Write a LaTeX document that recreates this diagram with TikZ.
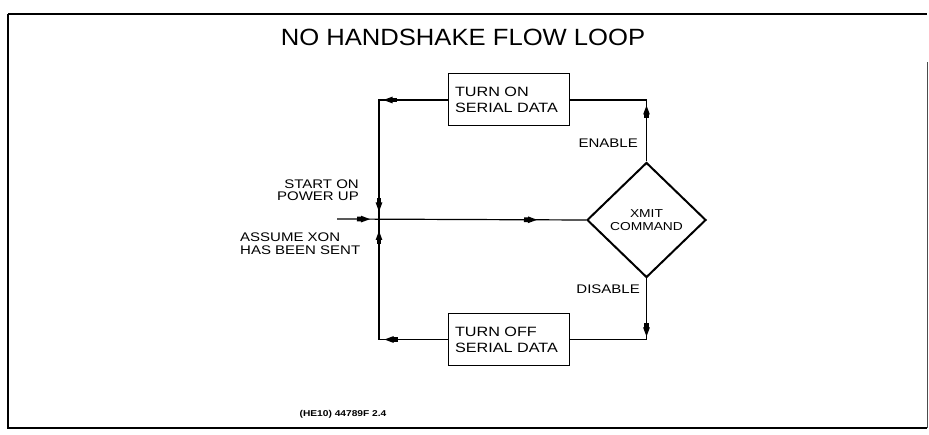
\documentclass[tikz,border=0pt]{standalone}
\usepackage{fontspec}
\setmainfont{Liberation Sans}[FakeStretch=1.2]
\newfontfamily\titlefont{Liberation Sans}[FakeStretch=1.09]
\usetikzlibrary{shapes.geometric,arrows.meta,decorations.markings}
\newcommand\arrmark{\fill (0,0) -- (-9,3.4) -- (-9,-3.4) -- cycle; \fill (-8,-2.4) rectangle (-13,2.4);}
\tikzset{
  proc/.style={draw, line width=1pt, minimum width=121pt, minimum height=52pt,
    inner xsep=7pt, inner ysep=0pt, text width=107pt, align=left,
    font=\fontsize{13.5}{16}\selectfont},
  decide/.style={draw, diamond, line width=2pt, minimum width=119pt, minimum height=115pt,
    inner sep=0pt, align=center, font=\fontsize{11.5}{13}\selectfont},
  lbl/.style={inner sep=0pt, font=\fontsize{12.5}{12.5}\selectfont},
  conn/.style={line width=1.2pt},
  mk/.style={postaction={decorate}, decoration={markings, mark=at position #1 with {\arrmark}}},
  mktwo/.style 2 args={postaction={decorate}, decoration={markings,
    mark=at position #1 with {\arrmark}, mark=at position #2 with {\arrmark}}}
}
\begin{document}
\begin{tikzpicture}[x=1pt,y=-1pt]
\useasboundingbox (0,0) rectangle (929,435);
% frame
\draw[line width=2pt] (8,14) -- (927,14);
\draw[line width=1.2pt] (8,14) -- (8,428) -- (927,428);
\draw[line width=0.8pt, black!70] (927,428) -- (927,62);
% title
\node[font=\titlefont\fontsize{23.5}{28}\selectfont, inner sep=0pt] (title) at (463,37.5) {NO HANDSHAKE FLOW LOOP};
% nodes
\node[proc] (ton) at (508.5,100) {TURN ON\\SERIAL DATA};
\node[proc] (toff) at (508.5,339.5) {TURN OFF\\SERIAL DATA};
\node[decide] (dia) at (646.5,220) {XMIT\\COMMAND};
\coordinate (j) at (379,219);
\coordinate (s) at (337,219);
% labels
\node[lbl, anchor=east] (en) at (638,143) {ENABLE};
\node[lbl, anchor=east] (dis) at (640,289) {DISABLE};
\node[lbl, anchor=east, align=right, font=\fontsize{12.5}{12}\selectfont] (start) at (359,190.5) {START ON\\POWER UP};
\node[lbl, anchor=west, align=left, font=\fontsize{12.5}{13}\selectfont] (assume) at (240,243.5) {ASSUME XON\\HAS BEEN SENT};
\node[inner sep=0pt, font=\bfseries\fontsize{8.5}{10}\selectfont] (code) at (343,414) {(HE10) 44789F 2.4};
% connectors
\draw[conn, mk=56pt] (dia.north) |- (ton.east);
\draw[conn, line width=1.6pt, mktwo={64pt}{180pt}] (ton.west) -| (j);
\draw[conn, mk=58pt] (dia.south) |- (toff.east);
\draw[conn, line width=1.6pt, mktwo={63pt}{177pt}] (toff.west) -| (j);
\draw[conn, mktwo={33pt}{200pt}] (s) -- (dia.west);
\end{tikzpicture}
\end{document}
